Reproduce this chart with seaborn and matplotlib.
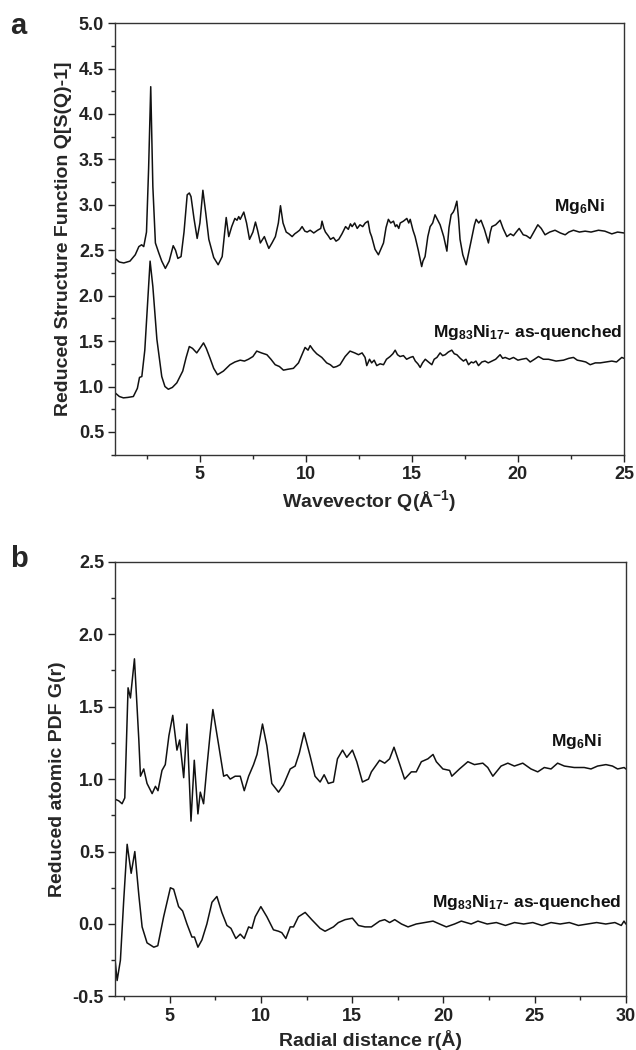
import matplotlib
matplotlib.use("Agg")
import matplotlib.pyplot as plt
import seaborn as sns
from matplotlib.ticker import MultipleLocator, FormatStrFormatter

# Panel a: reduced structure function Q[S(Q)-1]
q_mg6ni = [1.00, 1.20, 1.41, 1.70, 1.95, 2.12, 2.25, 2.35, 2.48, 2.58, 2.68, 2.78, 2.90, 3.06, 3.20, 3.37,
           3.55, 3.74, 3.85, 3.96, 4.11, 4.25, 4.40, 4.50, 4.58, 4.72, 4.87, 5.00, 5.14, 5.28, 5.42, 5.65,
           5.86, 6.05, 6.24, 6.36, 6.50, 6.65, 6.75, 6.83, 6.90, 7.07, 7.20, 7.34, 7.50, 7.62, 7.72, 7.85,
           8.04, 8.15, 8.25, 8.40, 8.56, 8.70, 8.80, 8.92, 9.07, 9.20, 9.35, 9.47, 9.59, 9.70, 9.82, 9.95,
           10.06, 10.20, 10.37, 10.55, 10.70, 10.76, 10.85, 10.92, 11.05, 11.16, 11.30, 11.42, 11.55, 11.70,
           11.87, 12.00, 12.10, 12.18, 12.30, 12.42, 12.55, 12.68, 12.80, 12.93, 13.02, 13.10, 13.26, 13.42,
           13.55, 13.66, 13.78, 13.89, 14.00, 14.13, 14.22, 14.29, 14.38, 14.45, 14.60, 14.76, 14.85, 14.92,
           15.05, 15.15, 15.30, 15.46, 15.52, 15.62, 15.75, 15.86, 15.98, 16.09, 16.20, 16.33, 16.50, 16.65,
           16.75, 16.85, 16.95, 17.01, 17.12, 17.20, 17.27, 17.40, 17.56, 17.70, 17.83, 17.95, 18.03, 18.15,
           18.26, 18.42, 18.61, 18.70, 18.77, 18.95, 19.16, 19.30, 19.48, 19.65, 19.79, 19.92, 20.06, 20.25,
           20.40, 20.58, 20.75, 20.94, 21.10, 21.28, 21.50, 21.75, 22.00, 22.23, 22.40, 22.62, 22.90, 23.17,
           23.45, 23.80, 24.10, 24.43, 24.70, 25.00]
sq_mg6ni = [2.41, 2.37, 2.36, 2.38, 2.45, 2.54, 2.56, 2.54, 2.70, 3.40, 4.30, 3.20, 2.58, 2.47, 2.38, 2.30,
            2.38, 2.55, 2.50, 2.41, 2.43, 2.70, 3.11, 3.13, 3.09, 2.85, 2.63, 2.80, 3.16, 2.90, 2.62, 2.42,
            2.34, 2.43, 2.86, 2.65, 2.76, 2.85, 2.83, 2.87, 2.84, 2.92, 2.80, 2.62, 2.70, 2.81, 2.72, 2.58,
            2.65, 2.58, 2.52, 2.58, 2.65, 2.80, 2.99, 2.80, 2.70, 2.68, 2.65, 2.68, 2.70, 2.72, 2.76, 2.71,
            2.70, 2.72, 2.69, 2.72, 2.74, 2.82, 2.74, 2.70, 2.66, 2.62, 2.64, 2.60, 2.62, 2.68,
            2.76, 2.73, 2.79, 2.76, 2.80, 2.74, 2.78, 2.76, 2.80, 2.82, 2.70, 2.65, 2.51, 2.45,
            2.52, 2.58, 2.75, 2.84, 2.80, 2.82, 2.76, 2.78, 2.74, 2.80, 2.82, 2.85, 2.80, 2.84,
            2.72, 2.65, 2.50, 2.32, 2.38, 2.43, 2.65, 2.76, 2.80, 2.89, 2.84, 2.78, 2.65, 2.49,
            2.75, 2.89, 2.92, 2.95, 3.04, 2.85, 2.62, 2.45, 2.34, 2.50, 2.65, 2.78, 2.84, 2.80,
            2.83, 2.73, 2.58, 2.70, 2.76, 2.78, 2.83, 2.74, 2.65, 2.68, 2.66, 2.70, 2.74, 2.67,
            2.66, 2.63, 2.70, 2.78, 2.74, 2.67, 2.70, 2.72, 2.69, 2.67, 2.70, 2.72, 2.70, 2.71,
            2.70, 2.72, 2.71, 2.68, 2.70, 2.69]

q_mg83 = [1.00, 1.20, 1.39, 1.60, 1.86, 2.05, 2.15, 2.26, 2.40, 2.55, 2.65, 2.78, 2.97, 3.20, 3.35, 3.51,
          3.70, 3.91, 4.19, 4.35, 4.50, 4.65, 4.85, 5.00, 5.17, 5.30, 5.48, 5.65, 5.83, 6.11, 6.42, 6.65,
          6.90, 7.10, 7.29, 7.50, 7.68, 7.90, 8.16, 8.35, 8.55, 8.75, 8.94, 9.15, 9.41, 9.65, 9.96, 10.10,
          10.20, 10.35, 10.51, 10.75, 10.98, 11.15, 11.30, 11.45, 11.61, 11.85, 12.08, 12.30, 12.48, 12.65,
          12.79, 12.87, 13.00, 13.10, 13.22, 13.34, 13.50, 13.66, 13.80, 13.97, 14.10, 14.21, 14.32, 14.44,
          14.60, 14.75, 14.92, 15.05, 15.16, 15.28, 15.39, 15.50, 15.63, 15.78, 15.94, 16.05, 16.18, 16.33,
          16.45, 16.57, 16.72, 16.88, 17.00, 17.12, 17.28, 17.43, 17.55, 17.67, 17.80, 17.90, 18.02, 18.14,
          18.30, 18.45, 18.60, 18.77, 18.95, 19.16, 19.28, 19.40, 19.60, 19.79, 20.00, 20.18, 20.40, 20.58,
          20.78, 20.97, 21.20, 21.44, 21.80, 22.15, 22.40, 22.62, 22.80, 23.02, 23.20, 23.41, 23.65, 23.88,
          24.15, 24.43, 24.65, 24.90, 25.00]
sq_mg83 = [0.93, 0.89, 0.875, 0.88, 0.89, 0.98, 1.10, 1.11, 1.40, 2.00, 2.38, 2.10, 1.52, 1.11, 1.00, 0.97,
           0.99, 1.04, 1.17, 1.32, 1.44, 1.42, 1.37, 1.42, 1.48, 1.42, 1.31, 1.20, 1.13, 1.17, 1.24, 1.27,
           1.29, 1.28, 1.30, 1.33, 1.39, 1.37, 1.35, 1.30, 1.24, 1.22, 1.18, 1.19, 1.20, 1.26, 1.43, 1.40,
           1.45, 1.40, 1.36, 1.32, 1.26, 1.24, 1.21, 1.22, 1.24, 1.33, 1.39, 1.37, 1.35, 1.37,
           1.32, 1.23, 1.30, 1.26, 1.29, 1.23, 1.25, 1.24, 1.30, 1.33, 1.36, 1.40, 1.35, 1.33,
           1.34, 1.30, 1.32, 1.33, 1.28, 1.25, 1.21, 1.26, 1.30, 1.27, 1.24, 1.30, 1.32, 1.37,
           1.34, 1.35, 1.38, 1.40, 1.36, 1.35, 1.31, 1.28, 1.30, 1.24, 1.27, 1.26, 1.28, 1.23,
           1.27, 1.28, 1.26, 1.28, 1.30, 1.35, 1.31, 1.32, 1.30, 1.32, 1.29, 1.30, 1.31, 1.27,
           1.30, 1.33, 1.30, 1.30, 1.28, 1.29, 1.31, 1.32, 1.29, 1.28, 1.27, 1.24, 1.26, 1.26,
           1.27, 1.28, 1.27, 1.32, 1.31]

# Panel b: reduced atomic PDF G(r)
r_mg6ni = [2.02, 2.20, 2.38, 2.53, 2.71, 2.84, 3.06, 3.30, 3.39, 3.57, 3.75, 4.03, 4.21, 4.35, 4.57, 4.75,
           4.95, 5.16, 5.39, 5.54, 5.76, 5.94, 6.16, 6.34, 6.54, 6.67, 6.85, 7.03, 7.20, 7.36, 7.67, 7.95,
           8.13, 8.31, 8.58, 8.86, 9.08, 9.32, 9.59, 9.78, 10.08, 10.32, 10.59, 10.96, 11.23, 11.60, 11.87,
           12.10, 12.36, 12.69, 12.96, 13.24, 13.46, 13.69, 13.97, 14.19, 14.47, 14.70, 15.01, 15.25, 15.56,
           15.89, 16.05, 16.50, 16.78, 17.05, 17.29, 17.61, 17.87, 18.24, 18.51, 18.79, 19.15, 19.43, 19.61,
           19.97, 20.34, 20.46, 20.88, 21.34, 21.70, 22.16, 22.43, 22.71, 23.16, 23.53, 23.89, 24.35, 24.80,
           25.17, 25.53, 25.90, 26.26, 26.63, 27.17, 27.72, 28.09, 28.45, 28.91, 29.27, 29.55, 29.91, 30.00]
g_mg6ni = [0.86, 0.85, 0.83, 0.87, 1.63, 1.56, 1.83, 1.27, 1.02, 1.07, 0.97, 0.90, 0.95, 0.92, 1.06, 1.10,
           1.30, 1.44, 1.20, 1.27, 1.01, 1.38, 0.71, 1.13, 0.76, 0.91, 0.83, 1.08, 1.30, 1.48, 1.24, 1.02,
           1.03, 1.00, 1.02, 1.02, 0.92, 1.02, 1.10, 1.17, 1.38, 1.23, 0.97, 0.91, 0.96, 1.07, 1.09,
           1.18, 1.32, 1.16, 1.02, 0.98, 1.03, 0.97, 0.98, 1.14, 1.20, 1.15, 1.20, 1.12, 0.98,
           1.00, 1.05, 1.13, 1.11, 1.14, 1.22, 1.10, 1.00, 1.05, 1.05, 1.12, 1.14, 1.17, 1.12,
           1.07, 1.06, 1.02, 1.07, 1.12, 1.10, 1.11, 1.08, 1.02, 1.09, 1.11, 1.09, 1.11, 1.07,
           1.05, 1.08, 1.07, 1.11, 1.09, 1.08, 1.08, 1.07, 1.09, 1.10, 1.09, 1.07, 1.08, 1.07]

r_mg83 = [2.00, 2.11, 2.29, 2.47, 2.66, 2.88, 3.08, 3.30, 3.48, 3.75, 4.12, 4.34, 4.66, 5.03, 5.21, 5.48,
          5.70, 5.94, 6.21, 6.35, 6.54, 6.76, 7.03, 7.31, 7.58, 7.85, 8.13, 8.35, 8.62, 8.86, 9.08, 9.32,
          9.50, 9.68, 9.99, 10.32, 10.68, 10.96, 11.14, 11.36, 11.60, 11.78, 12.05, 12.42, 12.78, 13.24,
          13.51, 13.97, 14.24, 14.61, 15.01, 15.34, 15.70, 16.05, 16.50, 16.78, 17.05, 17.33, 17.70, 18.06,
          18.51, 18.97, 19.43, 19.79, 20.16, 20.61, 20.98, 21.52, 21.89, 22.40, 22.90, 23.40, 23.90, 24.40,
          24.90, 25.40, 25.90, 26.40, 26.90, 27.40, 27.90, 28.40, 28.90, 29.40, 29.75, 29.90, 30.00]
g_mg83 = [-0.25, -0.39, -0.25, 0.16, 0.55, 0.35, 0.50, 0.20, -0.02, -0.13, -0.16, -0.15, 0.05, 0.25, 0.24, 0.12,
          0.09, 0.00, -0.09, -0.09, -0.16, -0.11, 0.00, 0.15, 0.19, 0.08, -0.01, -0.03, -0.10, -0.07, -0.10, -0.02,
          -0.03, 0.05, 0.12, 0.05, -0.04, -0.05, -0.06, -0.10, -0.02, -0.02, 0.05, 0.08, 0.03, -0.03,
          -0.05, -0.02, 0.01, 0.03, 0.04, -0.01, -0.02, -0.02, 0.02, 0.03, 0.01, 0.03, 0.00, -0.02,
          0.00, 0.01, 0.02, 0.00, -0.02, 0.00, 0.02, 0.00, 0.02, 0.00, 0.01, -0.01, 0.01, 0.00,
          0.01, -0.01, 0.01, 0.00, 0.01, -0.01, 0.00, 0.01, 0.00, 0.01, -0.01, 0.02, 0.00]

# ---------------- style ----------------
TICK_FS = 13
LABEL_FS = 14
ANN_FS = 12.5

sns.set_theme(style="ticks")
plt.rcParams["font.family"] = ["Liberation Sans", "DejaVu Sans"]
plt.rcParams["font.weight"] = "bold"
plt.rcParams["mathtext.fontset"] = "custom"
plt.rcParams["mathtext.bf"] = "Liberation Sans:bold"
plt.rcParams["mathtext.rm"] = "Liberation Sans:bold"
plt.rcParams["mathtext.default"] = "bf"
plt.rcParams["axes.linewidth"] = 1.0
plt.rcParams["axes.edgecolor"] = "#333333"
plt.rcParams["xtick.labelsize"] = TICK_FS
plt.rcParams["ytick.labelsize"] = TICK_FS

fig = plt.figure(figsize=(6.36, 10.5), dpi=100)
ax1 = fig.add_axes([0.181, 0.567, 0.800, 0.411])
ax2 = fig.add_axes([0.181, 0.051, 0.803, 0.414])

line_kw = dict(color="#111111", linewidth=1.1, estimator=None, sort=False, legend=False)
sns.lineplot(x=q_mg6ni, y=sq_mg6ni, ax=ax1, **line_kw)
sns.lineplot(x=q_mg83, y=sq_mg83, ax=ax1, **line_kw)
sns.lineplot(x=r_mg6ni, y=g_mg6ni, ax=ax2, **line_kw)
sns.lineplot(x=r_mg83, y=g_mg83, ax=ax2, **line_kw)


def style_axis(ax, xlim, ylim, xticks, yticks):
    ax.set_xlim(*xlim)
    ax.set_ylim(*ylim)
    ax.set_xticks(xticks)
    ax.set_yticks(yticks)
    ax.xaxis.set_minor_locator(MultipleLocator(2.5))
    ax.yaxis.set_minor_locator(MultipleLocator(0.25))
    ax.yaxis.set_major_formatter(FormatStrFormatter("%.1f"))
    ax.tick_params(which="major", direction="out", length=5, width=1, labelsize=TICK_FS,
                   colors="#222222", pad=3)
    ax.tick_params(which="minor", direction="out", length=3, width=1)
    ax.tick_params(top=False, right=False, which="both")
    for s in ax.spines.values():
        s.set_visible(True)
        s.set_color("#333333")
    for lab in ax.get_xticklabels() + ax.get_yticklabels():
        lab.set_fontweight("bold")
        lab.set_fontsize(TICK_FS)

style_axis(ax1, (1, 25), (0.25, 5.0), [5, 10, 15, 20, 25],
           [0.5, 1.0, 1.5, 2.0, 2.5, 3.0, 3.5, 4.0, 4.5, 5.0])
style_axis(ax2, (2, 30), (-0.5, 2.5), [5, 10, 15, 20, 25, 30],
           [-0.5, 0.0, 0.5, 1.0, 1.5, 2.0, 2.5])

ax1.set_xlabel(r"Wavevector Q(Å$^{-1}$)", fontsize=LABEL_FS, fontweight="bold", labelpad=4)
ax1.set_ylabel("Reduced Structure Function Q[S(Q)-1]", fontsize=LABEL_FS, fontweight="bold", labelpad=5)
ax2.set_xlabel("Radial distance r(Å)", fontsize=LABEL_FS, fontweight="bold", labelpad=4)
ax2.set_ylabel("Reduced atomic PDF G(r)", fontsize=LABEL_FS, fontweight="bold", labelpad=5)

ann_kw = dict(fontsize=ANN_FS, fontweight="bold", color="#111111")
ax1.text(21.7, 2.93, r"Mg$_{6}$Ni", **ann_kw)
ax1.text(16.0, 1.55, r"Mg$_{83}$Ni$_{17}$- as-quenched", **ann_kw)
ax2.text(25.9, 1.23, r"Mg$_{6}$Ni", **ann_kw)
ax2.text(19.4, 0.12, r"Mg$_{83}$Ni$_{17}$- as-quenched", **ann_kw)

fig.text(0.016, 0.975, "a", fontsize=21, fontweight="bold", va="center")
fig.text(0.016, 0.468, "b", fontsize=21, fontweight="bold", va="center")

fig.savefig("out.png", dpi=100)
